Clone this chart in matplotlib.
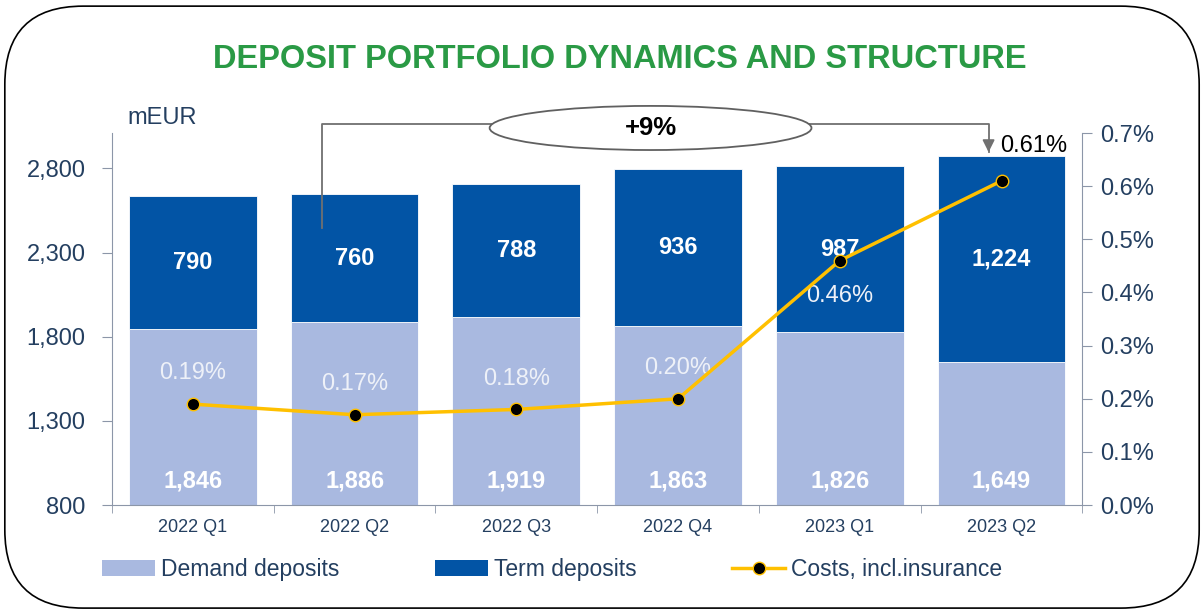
import numpy as np
import matplotlib.pyplot as plt
from matplotlib.patches import FancyBboxPatch, Ellipse, Patch
from matplotlib.lines import Line2D

plt.rcParams['font.family'] = ['Liberation Sans', 'DejaVu Sans']

# 数据
quarters = ['2022 Q1', '2022 Q2', '2022 Q3', '2022 Q4', '2023 Q1', '2023 Q2']
demand = [1846, 1886, 1919, 1863, 1826, 1649]
term = [790, 760, 788, 936, 987, 1224]
costs = [0.19, 0.17, 0.18, 0.20, 0.46, 0.61]
growth_label = '+9%'

c_demand = '#A9B9E0'
c_term = '#0254A5'
c_line = '#FFC000'
c_text = '#243F60'
c_spine = '#8C96A8'
fs = 17

fig = plt.figure(figsize=(12.04, 6.13), dpi=100)
ax = fig.add_axes([0.093, 0.176, 0.806, 0.607])
x = np.arange(len(quarters))
w = 0.79

ax.bar(x, demand, w, color=c_demand, edgecolor='white', linewidth=0.6, zorder=2)
ax.bar(x, term, w, bottom=demand, color=c_term, edgecolor='white', linewidth=0.6, zorder=2)
ax.set_ylim(800, 3010)
ax.set_xlim(-0.5, len(quarters) - 0.5)
yt = [800, 1300, 1800, 2300, 2800]
ax.set_yticks(yt)
ax.set_yticklabels([f'{v:,}' for v in yt])

# 柱内数值标签
for i in range(len(quarters)):
    ax.text(x[i], 945, f'{demand[i]:,}', ha='center', va='center', color='white',
            fontsize=fs, fontweight='bold', zorder=4)
    ax.text(x[i], demand[i] + term[i] / 2, f'{term[i]:,}', ha='center', va='center',
            color='white', fontsize=fs, fontweight='bold', zorder=4)

ax.set_xticks(x)
ax.set_xticklabels(quarters, fontsize=13, color=c_text)
ax.set_xticks(np.arange(-0.5, len(quarters)), minor=True)
ax.tick_params(axis='x', which='major', length=0, pad=10)
ax.tick_params(axis='x', which='minor', length=6, color=c_spine)
ax.tick_params(axis='y', labelsize=fs, labelcolor=c_text, color=c_spine, length=7, pad=12)
for s in ['top', 'right']:
    ax.spines[s].set_visible(False)
ax.spines['left'].set_color(c_spine)
ax.spines['bottom'].set_color(c_spine)

ax2 = ax.twinx()
ax2.set_ylim(0, 0.7)
ax2.plot(x, costs, color=c_line, linewidth=2.5, marker='o', markersize=9,
         markerfacecolor='black', markeredgecolor=c_line, markeredgewidth=1, zorder=5)
pt = np.arange(0, 0.71, 0.1)
ax2.set_yticks(pt)
ax2.set_yticklabels([f'{v:.1f}%' for v in pt])
ax2.tick_params(axis='y', labelsize=fs, labelcolor=c_text, color=c_spine, length=7, pad=6)
for s in ['top', 'left', 'bottom']:
    ax2.spines[s].set_visible(False)
ax2.spines['right'].set_color(c_spine)

for i, v in enumerate(costs):
    if i < 4:
        ax2.text(x[i], v + 0.058, f'{v:.2f}%', ha='center', va='center',
                 color='#EEF1F8', fontsize=fs)
    elif i == 4:
        ax2.text(x[i], v - 0.066, f'{v:.2f}%', ha='center', va='center',
                 color='#EEF1F8', fontsize=fs)
    else:
        ax2.text(x[i] + 0.2, v + 0.066, f'{v:.2f}%', ha='center', va='center',
                 color='black', fontsize=fs)

# 增长标注 (+9%)
x0, x1 = 0.8, 4.92
ytop = 3065
ax.plot([x0, x0, x1, x1], [2445, ytop, ytop, 2900], color='#707070', lw=1.3,
        clip_on=False, zorder=6)
ax.annotate('', xy=(x1, 2880), xytext=(x1, 2960),
            arrowprops=dict(arrowstyle='-|>', color='#707070', lw=1.3, mutation_scale=18),
            annotation_clip=False, zorder=6)
ell = Ellipse((2.83, ytop - 25), 1.99, 262, facecolor='white', edgecolor='#606060',
              lw=1.3, clip_on=False, zorder=7)
ax.add_patch(ell)
ax.text(2.83, ytop - 25, growth_label, ha='center', va='center', fontsize=18.5,
        fontweight='bold', color='black', zorder=8, clip_on=False)

ax.text(0.016, 1.04, 'mEUR', transform=ax.transAxes, fontsize=fs, color=c_text,
        ha='left', va='center')

fig.text(0.515, 0.903, 'DEPOSIT PORTFOLIO DYNAMICS AND STRUCTURE', ha='center', va='center',
         fontsize=23.5, fontweight='bold', color='#2A9A45')

handles = [Patch(facecolor=c_demand), Patch(facecolor=c_term),
           Line2D([], [], color=c_line, lw=2.5, marker='o', markersize=9,
                  markerfacecolor='black', markeredgecolor=c_line)]
fig.legend(handles, ['Demand deposits', 'Term deposits', 'Costs, incl.insurance'],
           loc='center', bbox_to_anchor=(0.4585, 0.071), ncol=3, frameon=False,
           fontsize=16.5, handlelength=2.3, handleheight=0.7, columnspacing=4.2,
           handletextpad=0.25, labelcolor=c_text)

border = FancyBboxPatch((0.004, 0.008), 0.992, 0.982, boxstyle='round,pad=0,rounding_size=0.065',
                        transform=fig.transFigure, facecolor='none', edgecolor='black',
                        lw=1.2, mutation_aspect=1204 / 613)
fig.patches.append(border)

fig.savefig('out.png', dpi=100)
